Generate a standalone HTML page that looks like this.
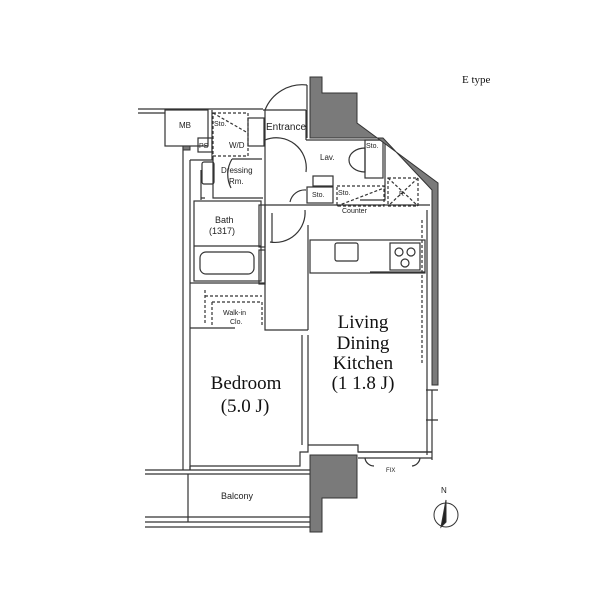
<!DOCTYPE html>
<html><head><meta charset="utf-8"><style>
html,body{margin:0;padding:0;background:#fff}
svg{display:block}
.s{font-family:"Liberation Sans",sans-serif;fill:#222}
.r{font-family:"Liberation Serif",serif;fill:#111}
</style></head><body>
<svg width="600" height="600" viewBox="0 0 600 600" xmlns="http://www.w3.org/2000/svg">
<rect width="600" height="600" fill="#fff"/>
<g stroke="#333" stroke-width="1.2" fill="none">
<path d="M138 109 H263 M138 113 H165"/>
<rect x="165" y="110" width="43" height="36"/>
<path d="M183 146 V470 M190 160 V470"/>
<path d="M190 160 H212 V110"/>
<rect x="213" y="113" width="35" height="43" stroke-dasharray="3 2"/>
<path d="M213 113 L248 133" stroke-dasharray="3 2"/>
<rect x="198" y="138" width="14" height="14"/>
<rect x="248" y="118" width="16" height="28"/>
<path d="M265 110 V283 M263 110 H306 M306 110 V140"/>
<path d="M213 156 V198 H263"/>
<path d="M201 170 V200 M201 198 H205"/>
<rect x="202" y="162" width="12" height="22" rx="2"/>
<path d="M307 85 A 40 40 0 0 0 265 110" />
<path d="M307 85 V138"/>
<path d="M265 140 A 30 30 0 0 1 306 172"/>
<path d="M232 159 A 30 30 0 0 0 231 188 M262 159 H232"/>
<path d="M290 202 A 15 15 0 0 1 306 190"/>
<path d="M270 242 A 30 30 0 0 0 305 210 M272 213 V242"/>
<path d="M306 140 H383 M385 140 V200 H360"/>
<rect x="365" y="140" width="18" height="38"/>
<path d="M365 148 A 16 12 0 0 0 365 172 Z"/>
<rect x="313" y="176" width="20" height="10"/>
<rect x="307" y="187" width="26" height="16"/>
<rect x="337" y="186" width="47" height="20" stroke-dasharray="3 2"/>
<path d="M337 206 L384 188" stroke-dasharray="3 2"/>
<rect x="388" y="178" width="30" height="28" stroke-dasharray="3 2"/>
<path d="M388 178 L418 206 M418 178 L388 206" stroke-dasharray="3 2"/>
<path d="M265 205 H430"/>
<rect x="194" y="201" width="67" height="80"/>
<path d="M194 246 H261"/>
<rect x="200" y="252" width="54" height="22" rx="6"/>
<rect x="259" y="205" width="6" height="42"/>
<rect x="259" y="250" width="6" height="34"/>
<path d="M190 283 H265"/>
<path d="M205 290 V325 M205 296 H262 M212 302 H262 V326 M212 302 V325" stroke-dasharray="3 2"/>
<path d="M190 328 H235 M265 283 V330 H308"/>
<path d="M308 225 V330 M302 335 V445 M308 335 V445"/>
<path d="M308 445 H358 V452 H432"/>
<path d="M427 210 V455"/>
<path d="M422 220 V365" stroke-dasharray="3 2"/>
<rect x="310" y="240" width="115" height="33"/>
<rect x="335" y="243" width="23" height="18" rx="2"/>
<rect x="390" y="243" width="30" height="27"/>
<circle cx="399" cy="252" r="4"/><circle cx="411" cy="252" r="4"/><circle cx="405" cy="263" r="4"/>
<path d="M370 272 H425"/>
<path d="M432 390 V460 M426 390 H438 M426 420 H438 M358 452 H432 M358 458 H432"/>
<path d="M365 458 A 9 9 0 0 0 374 466 M420 458 A 9 9 0 0 1 412 466"/>
<path d="M190 466 H300 V452 H308 V445 M190 466 V470"/>
<path d="M145 470 H310 M145 474 H310"/>
<path d="M188 474 V522 M145 517 H310 M145 522 H310 M145 527 H310"/>
</g>
<g fill="#7a7a7a" stroke="#333" stroke-width="1">
<path d="M310 77 H322 V93 H357 V123 L438 183 V385 H432 V190 L383 138 H310 Z"/>
<path d="M310 455 H357 V498 H322 V532 H310 Z"/>
<rect x="183" y="146" width="7" height="4"/>
</g>
<g stroke="#333" fill="none" stroke-width="1">
<circle cx="446" cy="515" r="12"/>
<path d="M446 500 L441 527 L446 522 Z" fill="#222"/>
</g>
<g class="s" font-size="8">
<text x="179" y="128">MB</text>
<text x="229" y="148">W/D</text>
<text x="199" y="148" font-size="7">PS</text>
<text x="214" y="126" font-size="7">Sto.</text>
<text x="266" y="130" font-size="10">Entrance</text>
<text x="320" y="160">Lav.</text>
<text x="366" y="148" font-size="7">Sto.</text>
<text x="221" y="173">Dressing</text>
<text x="229" y="184">Rm.</text>
<text x="312" y="197" font-size="7">Sto.</text>
<text x="338" y="195" font-size="7">Sto.</text>
<text x="399" y="196" font-size="7">R</text>
<text x="342" y="213" font-size="7">Counter</text>
<text x="215" y="223" font-size="9">Bath</text>
<text x="209" y="234" font-size="9">(1317)</text>
<text x="223" y="315" font-size="7">Walk-in</text>
<text x="230" y="324" font-size="7">Clo.</text>
<text x="221" y="499" font-size="9">Balcony</text>
<text x="386" y="472" font-size="6">FIX</text>
<text x="441" y="493" font-size="8">N</text>
<text x="462" y="83" class="r" font-size="11">E type</text>
</g>
<g class="r" font-size="19" text-anchor="middle">
<text x="363" y="328">Living</text>
<text x="363" y="349">Dining</text>
<text x="363" y="369">Kitchen</text>
<text x="363" y="389">(1 1.8 J)</text>
<text x="246" y="389">Bedroom</text>
<text x="245" y="412">(5.0 J)</text>
</g>
</svg>
</body></html>
